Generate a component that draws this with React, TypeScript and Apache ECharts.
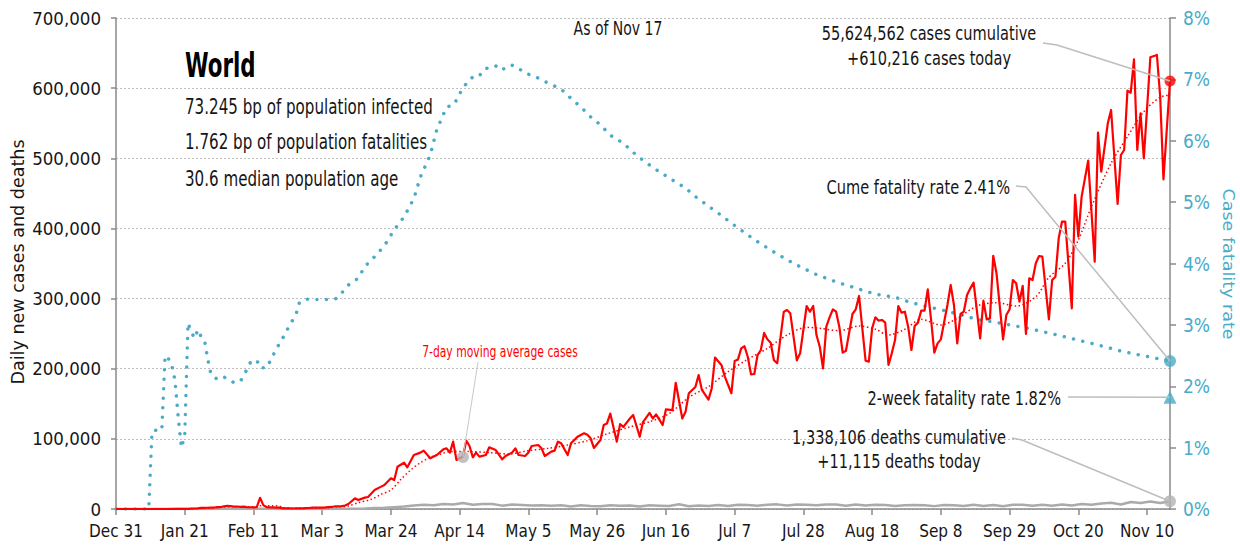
import React, { useEffect, useRef } from 'react';
import * as echarts from 'echarts';

const FONT = "'Liberation Sans Narrow', 'Arial Narrow', 'DejaVu Sans Condensed', sans-serif";
const RED = '#ff0000';
const TEAL = '#4aabc7';
const DEATH_GRAY = '#aaaaaa';
const AXIS_GRAY = '#8a8a8a';
const TEXT = '#161616';

// x axis: days since Dec 31, 2019
const xTickLabels = ['Dec 31', 'Jan 21', 'Feb 11', 'Mar 3', 'Mar 24', 'Apr 14', 'May 5', 'May 26', 'Jun 16', 'Jul 7', 'Jul 28', 'Aug 18', 'Sep 8', 'Sep 29', 'Oct 20', 'Nov 10'];
const LAST_DAY = 322;

// Daily new cases
const caseDays = [0, 5, 10, 15, 19, 20, 21, 22, 23, 24, 25, 26, 27, 28, 29, 30, 31, 32, 33, 34, 35, 36, 37, 38, 39, 40, 41, 42, 43, 44, 45, 46, 47, 48, 49, 50, 51, 52, 53, 54, 55, 56, 57, 58, 59, 60, 61, 62, 63, 64, 65, 66, 67, 68, 69, 70,
  71, 73, 74, 76, 77, 79, 81, 82, 84, 85, 86, 88, 89, 91, 93, 94, 96, 98, 100, 101, 102, 103, 104, 106, 107, 108, 109, 110, 111, 113, 114, 116, 118, 119, 121, 122, 123, 125, 126, 127, 129, 130, 131, 133, 134, 135, 136, 138, 139, 141, 143, 144,
  145, 146, 148, 149, 150, 151, 153, 154, 155, 157, 158, 160, 161, 163, 164, 165, 167, 168, 170, 171, 173, 174, 175, 177, 178, 179, 181, 182, 183, 185, 186, 188, 189, 190, 191, 192, 193, 194, 195, 196, 197, 198, 199, 200, 201, 202, 204, 205, 206, 208, 209,
  211, 212, 213, 214, 215, 216, 217, 218, 219, 220, 221, 222, 223, 225, 226, 227, 229, 230, 231, 232, 233, 234, 235, 236, 237, 238, 239, 240, 241, 242, 243, 244, 245, 246, 247, 248, 249, 250, 251, 252, 254, 255, 256, 257, 258, 259, 260, 261, 262, 264, 265, 266, 267, 268, 269,
  271, 272, 273, 274, 275, 276, 277, 278, 279, 280, 281, 282, 283, 285, 286, 287, 288, 289, 290, 292, 293, 294, 295, 297, 299, 300, 301, 303, 304, 306, 307, 308, 309, 310, 311, 312, 313, 314, 316, 318, 319, 320, 322];
const caseValues = [27, 0, 0, 10, 60, 80, 150, 300, 450, 700, 800, 1800, 1500, 1800, 2000, 2100, 2600, 2800, 3800, 4500, 4000, 3500, 3600, 3000, 3300, 2800, 2500, 2300, 2500, 16000, 5500, 2800, 2200, 2300, 2100, 2000, 900, 1100, 1000, 700, 900, 900, 1000, 1200, 1400, 1900, 1900, 2000, 2000, 2300, 2800, 2900, 3900, 3700, 4000, 5000,
  7100, 15200, 12800, 16200, 17100, 27100, 31900, 34200, 43700, 41300, 60300, 66000, 59400, 77000, 80400, 83200, 72300, 77000, 85100, 86500, 80400, 96000, 70000, 74700, 97400, 89800, 73700, 80400, 74700, 77000, 87900, 84100, 70800, 75600, 80400, 86500, 77000, 75600, 80400, 89800, 91200, 86500, 75600, 81800, 83200, 96000, 93600, 77000, 93600, 103000, 108000, 105700,
  100800, 87000, 98400, 119800, 122000, 136000, 96000, 121000, 117000, 129000, 134000, 103000, 124000, 137000, 129000, 135000, 119800, 142000, 141000, 180000, 129000, 138700, 165000, 174000, 191000, 169700, 156000, 172000, 216000, 205000, 188700, 165000, 211000, 213000, 229000, 232000, 217000, 192000, 192500, 219500, 226700, 251000, 242000, 237000, 212000, 207700, 281000, 283700, 279000, 212000, 222000,
  289400, 281300, 289400, 248000, 231400, 200600, 260000, 273300, 284700, 281300, 259000, 222900, 225700, 278000, 284700, 303700, 211500, 210000, 257600, 273300, 268500, 269500, 265700, 205300, 221900, 240900, 289400, 279900, 281300, 260000, 226700, 260900, 265700, 282800, 282800, 313200, 270400, 222900, 236200, 241900, 290800, 319400, 290800, 236200, 278000, 281300, 305100, 314600, 322700, 243300, 297000, 270400, 271800, 361000, 336000,
  241900, 276600, 284700, 326500, 321800, 295600, 318000, 249500, 328900, 326500, 350300, 360700, 359800, 270400, 326500, 331200, 385900, 409600, 409600, 286100, 447700, 388300, 445300, 496600, 352600, 536500, 480900, 549900, 568900, 434800, 504700, 511800, 596400, 593500, 641100, 511800, 564100, 500000, 644000, 647300, 587900, 470000, 610216];

// 7-day moving average of cases
const maDays = [0, 20, 24, 28, 32, 36, 40, 42, 44, 48, 50, 51, 55, 60, 65, 68, 71, 74, 78, 81, 84, 87, 90, 93, 96, 99, 102, 108, 114, 120, 126, 132, 138, 144, 150, 157, 163, 169, 175, 181, 187, 193, 199, 205, 211, 215, 221, 227, 232, 236, 241, 246, 252, 257, 263, 269, 275, 281, 285, 290, 294, 298, 304, 309, 314, 319, 322];
const maValues = [0, 100, 400, 1400, 2500, 3300, 2900, 2700, 4500, 4600, 4000, 2000, 1000, 1200, 2300, 3200, 4300, 9000, 13800, 21000, 27100, 42000, 55600, 66000, 73700, 78000, 81800, 81800, 80400, 78400, 83200, 86500, 91200, 97400, 107000, 117000, 124500, 136000, 159200, 174400, 195800, 213400, 229000, 248000, 259000, 257600, 254200, 260900, 256200, 248000, 256200, 270400, 262300, 271800, 289400, 294200, 289400, 302700, 330300, 350300, 383500, 431000, 492900, 530800, 566400, 587000, 590000];

// Daily new deaths
const deathDays = [0, 20, 21, 25, 30, 35, 40, 44, 48, 55, 60, 63, 66, 70, 73, 76, 79, 82, 85, 88, 91, 94, 97, 100, 103, 106, 109, 112, 115, 118, 121, 124, 127, 130, 133, 136, 139, 142, 145, 148, 151, 154, 157, 160, 163, 166, 169, 172, 175, 178, 181, 184, 187, 190, 193, 196, 199, 202, 205, 208, 211, 214, 217, 220, 223, 226, 229, 232, 235, 238, 241, 244, 247, 250, 253, 256, 259, 262, 265, 268, 271, 274, 277, 280, 283, 286, 289, 292, 295, 298, 301, 304, 307, 310, 313, 316, 319, 322];
const deathValues = [0, 0, 20, 40, 45, 65, 100, 250, 100, 60, 40, 60, 100, 300, 400, 800, 1300, 1700, 2600, 3500, 5000, 6000, 5500, 7200, 6500, 8500, 6000, 7000, 7000, 4800, 6400, 5700, 5000, 5400, 4600, 5300, 3600, 5300, 4400, 4000, 5500, 4700, 4900, 3600, 5200, 4800, 4200, 6700, 4000, 5100, 4300, 5600, 4200, 5900, 5600, 4700, 6000, 6600, 4900, 6400, 6200, 5500, 6400, 6300, 4600, 6400, 5000, 6200, 5600, 4200, 5400, 5800, 5300, 4100, 5600, 5300, 4300, 6100, 4400, 5800, 4000, 5900, 5900, 4600, 6200, 4700, 6400, 5000, 7100, 6000, 8000, 9000, 6400, 9900, 8600, 10700, 8500, 11115];

// Cumulative case fatality rate (%)
const cfrDays = [0, 10, 11, 13, 14, 15, 16, 17, 18, 19, 20, 21, 22, 23, 24, 25, 26, 27, 28, 29, 31, 33, 36, 38, 39, 41, 43, 44, 46, 47, 49, 51, 53, 55, 56, 58, 63, 67, 68, 71, 74, 76, 79, 82, 85, 88, 91, 93, 96, 98, 101, 103, 104, 106, 109, 111, 112, 114, 116, 118, 119, 121, 123, 125, 128, 130, 134, 136, 139, 142, 145, 148, 151, 155, 158, 161, 165, 170, 174, 177, 185, 190, 195, 200, 205, 210, 214, 220, 226, 232, 238, 242, 246, 251, 257, 263, 269, 275, 278, 288, 298, 308, 322];
const cfrValues = [0, 0, 1.26, 1.30, 1.29, 2.50, 2.45, 2.35, 2.10, 1.50, 1.00, 1.20, 3.03, 2.89, 2.78, 2.92, 2.81, 2.76, 2.45, 2.20, 2.11, 2.15, 2.06, 2.08, 2.17, 2.38, 2.43, 2.30, 2.30, 2.40, 2.61, 2.79, 2.99, 3.17, 3.36, 3.42, 3.41, 3.42, 3.46, 3.65, 3.76, 3.95, 4.11, 4.29, 4.55, 4.76, 5.06, 5.41, 5.77, 6.18, 6.55, 6.58, 6.66, 6.87, 7.04, 7.05, 7.14, 7.20, 7.22, 7.15, 7.20, 7.23, 7.18, 7.10, 7.05, 6.99, 6.89, 6.84, 6.69, 6.55, 6.39, 6.26, 6.09, 5.96, 5.81, 5.68, 5.53, 5.36, 5.23, 5.09, 4.78, 4.58, 4.39, 4.22, 4.06, 3.92, 3.82, 3.70, 3.60, 3.50, 3.45, 3.38, 3.32, 3.26, 3.18, 3.09, 3.04, 2.98, 2.95, 2.83, 2.70, 2.56, 2.41];

// Headline figures
const cumulativeCases = '55,624,562';
const casesToday = 610216;
const cumulativeDeaths = '1,338,106';
const deathsToday = 11115;
const cumeFatalityRate = 2.41;
const twoWeekFatalityRate = 1.82;
const maMarker = [106, 74000];
const infoLines = ['73.245 bp of population infected', '1.762 bp of population fatalities', '30.6 median population age'];

const pairs = (xs: number[], ys: number[]) => xs.map((x, i) => [x, ys[i]]);
const fmt = (n: number) => n.toLocaleString('en-US');

export default function App() {
  const ref = useRef<HTMLDivElement>(null);
  useEffect(() => {
    if (!ref.current) return;
    const chart = echarts.init(ref.current, undefined, { renderer: 'svg' });
    const option: any = {
      animation: false,
      textStyle: { fontFamily: FONT },
      grid: { left: 116, right: 70, top: 18, bottom: 37, containLabel: false },
      xAxis: {
        type: 'value', min: 0, max: LAST_DAY, interval: 21,
        axisLine: { lineStyle: { color: AXIS_GRAY, width: 1.5 } },
        axisTick: { length: 6, lineStyle: { color: AXIS_GRAY, width: 1.5 } },
        axisLabel: {
          fontFamily: FONT, fontSize: 17, color: TEXT, margin: 13, showMaxLabel: false,
          formatter: (v: number) => (v % 21 === 0 ? xTickLabels[v / 21] || '' : ''),
        },
        splitLine: { show: false },
      },
      yAxis: [
        {
          type: 'value', min: 0, max: 700000, interval: 100000,
          axisLine: { show: true, lineStyle: { color: AXIS_GRAY, width: 1.5 } },
          axisTick: { show: true, length: 5, lineStyle: { color: AXIS_GRAY, width: 1.5 } },
          axisLabel: { fontFamily: FONT, fontSize: 18.5, color: TEXT, margin: 15, formatter: (v: number) => fmt(v) },
          splitLine: { show: true, lineStyle: { color: '#bdbdbd', width: 1, type: [2, 2] } },
        },
        {
          type: 'value', min: 0, max: 8, interval: 1, position: 'right',
          axisLine: { show: true, lineStyle: { color: AXIS_GRAY, width: 1.5 } },
          axisTick: { show: true, length: 6, lineStyle: { color: AXIS_GRAY, width: 1.5 } },
          axisLabel: { fontFamily: FONT, fontSize: 19, color: TEAL, margin: 13, formatter: (v: number) => v + '%' },
          splitLine: { show: false },
        },
      ],
      series: [
        {
          type: 'line', name: 'Deaths', data: pairs(deathDays, deathValues), showSymbol: false,
          lineStyle: { color: DEATH_GRAY, width: 2.5 }, z: 2,
        },
        {
          type: 'line', name: 'CFR', yAxisIndex: 1, data: pairs(cfrDays, cfrValues), showSymbol: false,
          lineStyle: { color: TEAL, width: 3.5, type: [0.01, 9.5], cap: 'round' }, z: 3,
        },
        {
          type: 'line', name: 'Cases', data: pairs(caseDays, caseValues), showSymbol: false,
          lineStyle: { color: RED, width: 2.2, join: 'round' }, z: 4,
        },
        {
          type: 'line', name: 'MA', data: pairs(maDays, maValues), showSymbol: false, smooth: 0.3,
          lineStyle: { color: RED, width: 1.5, type: [1.5, 2.5] }, z: 5,
        },
        {
          type: 'scatter', data: [[LAST_DAY, casesToday]], symbol: 'circle', symbolSize: 11,
          itemStyle: { color: RED }, z: 10,
        },
        {
          type: 'scatter', data: [[LAST_DAY, deathsToday], maMarker], symbol: 'circle', symbolSize: 12,
          itemStyle: { color: '#b3b3b3' }, z: 10,
        },
        {
          type: 'scatter', yAxisIndex: 1, data: [[LAST_DAY, cumeFatalityRate]], symbol: 'circle', symbolSize: 12,
          itemStyle: { color: TEAL }, z: 10,
        },
        {
          type: 'scatter', yAxisIndex: 1, data: [[LAST_DAY, twoWeekFatalityRate]], symbol: 'triangle', symbolSize: 13,
          itemStyle: { color: TEAL }, z: 10,
        },
      ],
    };
    chart.setOption(option);

    const p0 = (x: number, y: number) => chart.convertToPixel({ xAxisIndex: 0, yAxisIndex: 0 }, [x, y]) as number[];
    const p1 = (x: number, y: number) => chart.convertToPixel({ xAxisIndex: 0, yAxisIndex: 1 }, [x, y]) as number[];
    const casePt = p0(LAST_DAY, casesToday);
    const deathPt = p0(LAST_DAY, deathsToday);
    const cumePt = p1(LAST_DAY, cumeFatalityRate);
    const twoPt = p1(LAST_DAY, twoWeekFatalityRate);
    const maPt = p0(maMarker[0], maMarker[1]);

    const txt = (text: string, x: number, y: number, size: number, align: string, sx = 0.85, fill = TEXT, weight = 'normal', rotation = 0) => ({
      type: 'text', x, y, rotation, scaleX: rotation ? 1 : sx, scaleY: rotation ? sx : 1, z: 20,
      style: { text, fill, font: `${weight} ${size}px ${FONT}`, textAlign: align, textVerticalAlign: 'middle' },
    });
    const leader = (pts: number[][]) => ({
      type: 'polyline', z: 15, shape: { points: pts },
      style: { stroke: '#bdbdbd', lineWidth: 1.5, fill: null },
    });

    chart.setOption({
      graphic: [
        txt('Daily new cases and deaths', 18, 262, 19.5, 'center', 0.87, TEXT, 'normal', Math.PI / 2),
        txt('Case fatality rate', 1229, 264, 19.5, 'center', 0.85, TEAL, 'normal', -Math.PI / 2),
        txt('As of Nov 17', 618, 28, 19, 'center', 0.82),
        txt('World', 185, 66, 33, 'left', 0.72, '#000', 'bold'),
        txt(infoLines[0], 185, 107, 20.5, 'left', 0.82),
        txt(infoLines[1], 185, 142, 20.5, 'left', 0.82),
        txt(infoLines[2], 185, 179, 20.5, 'left', 0.82),
        txt(`${cumulativeCases} cases cumulative`, 929, 33, 20, 'center', 0.81),
        txt(`+${fmt(casesToday)} cases today`, 929, 58, 20, 'center', 0.81),
        txt(`Cume fatality rate ${cumeFatalityRate}%`, 1010, 187, 20, 'right', 0.81),
        txt(`2-week fatality rate ${twoWeekFatalityRate}%`, 1061, 398, 20, 'right', 0.81),
        txt(`${cumulativeDeaths} deaths cumulative`, 899, 437, 20, 'center', 0.81),
        txt(`+${fmt(deathsToday)} deaths today`, 899, 461, 20, 'center', 0.81),
        txt('7-day moving average cases', 500, 351, 15, 'center', 0.8, RED),
        leader([[1043, 43], [1057, 45], casePt]),
        leader([[1016, 186], [1026, 187], cumePt]),
        leader([[1068, 397], twoPt]),
        leader([[1012, 438], [1022, 440], deathPt]),
        { ...leader([[478, 362], maPt]), style: { stroke: '#c8c8c8', lineWidth: 1, fill: null } },
      ],
    });

    return () => chart.dispose();
  }, []);
  return <div ref={ref} style={{ position: 'fixed', left: 0, top: 0, width: 1240, height: 546, background: '#fff' }} />;
}
